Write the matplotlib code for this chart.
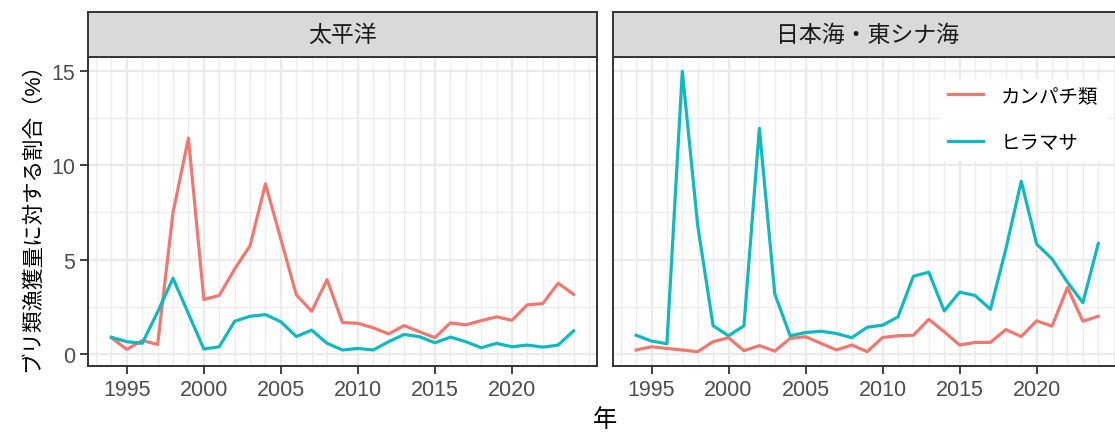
#recreates the buri bycatch ratio chart (two facets)

import matplotlib
matplotlib.use("Agg")
import matplotlib.pyplot as plt
from matplotlib.ticker import MultipleLocator, FixedLocator

plt.rcParams['font.family'] = ['Liberation Sans', 'Noto Sans CJK JP', 'DejaVu Sans']

years = list(range(1994, 2025))
panels = ['太平洋', '日本海・東シナ海']
series_names = ['カンパチ類', 'ヒラマサ']
xbreaks = [1995, 2000, 2005, 2010, 2015, 2020]

# 太平洋
pac_kanpachi = [0.88, 0.26, 0.73, 0.52, 7.49, 11.43, 2.90, 3.11, 4.51, 5.74, 9.01, 6.09, 3.15, 2.27, 3.95, 1.68,
                1.64, 1.40, 1.08, 1.52, 1.19, 0.88, 1.66, 1.56, 1.78, 1.98, 1.80, 2.62, 2.68, 3.76, 3.17]
pac_hiramasa = [0.90, 0.67, 0.58, 2.24, 4.02, 2.15, 0.28, 0.40, 1.75, 2.01, 2.10, 1.72, 0.94, 1.28, 0.58, 0.23,
                0.31, 0.23, 0.67, 1.05, 0.93, 0.61, 0.91, 0.67, 0.35, 0.58, 0.40, 0.49, 0.38, 0.49, 1.24]
# 日本海・東シナ海
jps_kanpachi = [0.23, 0.40, 0.31, 0.23, 0.14, 0.67, 0.88, 0.19, 0.46, 0.17, 0.84, 0.93, 0.58, 0.23, 0.49, 0.14,
                0.89, 0.98, 1.01, 1.85, 1.19, 0.49, 0.63, 0.63, 1.31, 0.94, 1.77, 1.49, 3.53, 1.75, 2.01]
jps_hiramasa = [1.01, 0.70, 0.56, 14.96, 6.79, 1.51, 0.98, 1.51, 11.95, 3.20, 0.98, 1.15, 1.22, 1.10, 0.88, 1.43,
                1.54, 1.98, 4.13, 4.34, 2.29, 3.29, 3.11, 2.38, 5.56, 9.15, 5.83, 5.04, 3.81, 2.73, 5.86]

data = [[pac_kanpachi, pac_hiramasa], [jps_kanpachi, jps_hiramasa]]
colors = ['#F0786E', '#0DBAC0']

W, H = 1115, 435
fig = plt.figure(figsize=(W / 100, H / 100), dpi=100)

# y range shared, ggplot-like 5% expansion
allv = pac_kanpachi + pac_hiramasa + jps_kanpachi + jps_hiramasa
lo, hi = min(allv), max(allv)
ypad = (hi - lo) * 0.05
xpad = (years[-1] - years[0]) * 0.05

lefts = [88.3, 613.0]
pw = 508.4
ptop, pbot = 58.3, 366.7
stop = 13.0

axes = []
for i in range(2):
    ax = fig.add_axes([lefts[i] / W, 1 - pbot / H, pw / W, (pbot - ptop) / H])
    ax.set_facecolor('white')
    for j in range(2):
        ax.plot(years, data[i][j], color=colors[j], lw=2.3, label=series_names[j], zorder=3)
    ax.set_xlim(years[0] - xpad, years[-1] + xpad)
    ax.set_ylim(lo - ypad, hi + ypad)
    ax.xaxis.set_major_locator(FixedLocator(xbreaks))
    ax.xaxis.set_minor_locator(MultipleLocator(1))
    ax.yaxis.set_major_locator(MultipleLocator(5))
    ax.yaxis.set_minor_locator(MultipleLocator(2.5))
    ax.grid(which='major', color='#EBEBEB', lw=1.7, zorder=0)
    ax.grid(which='minor', color='#EDEDED', lw=1.0, zorder=0)
    ax.set_axisbelow(True)
    ax.tick_params(which='major', length=5.5, width=1.3, color='#333333',
                   labelsize=15.5, labelcolor='#4D4D4D', pad=4)
    ax.tick_params(which='minor', length=0)
    for s in ax.spines.values():
        s.set_color('#333333')
        s.set_linewidth(1.4)
    if i == 1:
        ax.tick_params(axis='y', which='major', labelleft=False, length=0)
    # facet strip
    st = fig.add_axes([lefts[i] / W, 1 - ptop / H, pw / W, (ptop - stop) / H])
    st.set_facecolor('#D9D9D9')
    st.set_xticks([])
    st.set_yticks([])
    for s in st.spines.values():
        s.set_color('#333333')
        s.set_linewidth(1.4)
    st.text(0.5, 0.5, panels[i], ha='center', va='center', fontsize=16.5, color='#1A1A1A',
            transform=st.transAxes)
    axes.append(ax)

axes[0].set_ylabel('ブリ類漁獲量に対する割合（%）', fontsize=15.5, color='black', labelpad=6)
fig.text((lefts[0] + lefts[1] + pw) / 2 / W, 1 - 421 / H, '年', ha='center', va='center', fontsize=17.5)

leg = axes[1].legend(loc='upper left', bbox_to_anchor=(930 / W, 1 - 70 / H),
                     bbox_transform=fig.transFigure, fontsize=14, frameon=True,
                     handlelength=1.8, handletextpad=0.9, labelspacing=1.5, borderpad=0.45)
leg.get_frame().set_facecolor('white')
leg.get_frame().set_edgecolor('none')
leg.get_frame().set_alpha(1)
leg.get_frame().set_boxstyle('square', pad=0)

plt.savefig('out.png', dpi=100)
